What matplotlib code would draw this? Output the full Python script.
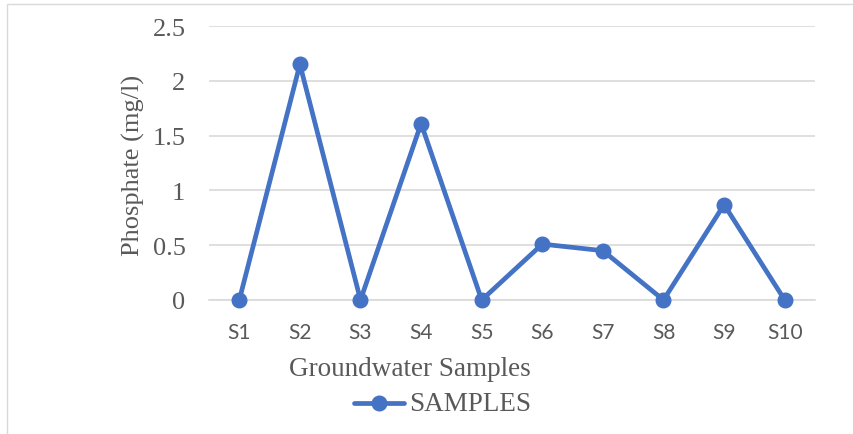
import matplotlib
matplotlib.use("Agg")
import matplotlib.pyplot as plt
from matplotlib.lines import Line2D
from matplotlib.patches import Rectangle

samples = ["S1", "S2", "S3", "S4", "S5", "S6", "S7", "S8", "S9", "S10"]
phosphate = [0.0, 2.15, 0.0, 1.61, 0.0, 0.51, 0.45, 0.0, 0.87, 0.0]
y_ticks = [0, 0.5, 1, 1.5, 2, 2.5]
y_tick_labels = ["0", "0.5", "1", "1.5", "2", "2.5"]

blue = "#4472C4"
grey_text = "#595959"
grid_col = "#d9d9d9"
serif = "Liberation Serif"
sans = "Lato"

fig = plt.figure(figsize=(8.54, 4.35), dpi=100)
W, H = 854, 435

# chart frame
fig.patches.append(Rectangle((7 / W, -0.1), 1.2, (H - 5) / H + 0.1, transform=fig.transFigure,
                             fill=False, edgecolor="#d9d9d9", linewidth=1.0))

ax = fig.add_axes([209 / W, 1 - 301 / H, (815 - 209) / W, (301 - 27) / H])
x = list(range(len(samples)))
ax.plot(x, phosphate, color=blue, linewidth=3.4, marker="o", markersize=10.5,
        solid_capstyle="round", solid_joinstyle="round", zorder=3, clip_on=False)

ax.set_xlim(-0.5, len(samples) - 0.5)
ax.set_ylim(0, 2.5)
ax.set_yticks(y_ticks)
ax.set_yticklabels(y_tick_labels, fontfamily=serif, fontsize=19, color=grey_text)
ax.set_xticks(x)
ax.set_xticklabels(samples, fontfamily=sans, fontsize=15, color=grey_text)
ax.tick_params(axis="y", length=0, pad=17)
ax.tick_params(axis="x", length=0, pad=16)
ax.grid(axis="y", color=grid_col, linewidth=1.2)
ax.set_axisbelow(True)
for s in ax.spines.values():
    s.set_visible(False)
ax.spines["bottom"].set_visible(True)
ax.spines["bottom"].set_color(grid_col)
ax.spines["bottom"].set_linewidth(1.2)

fig.text(133 / W, 1 - 165 / H, "Phosphate (mg/l)", rotation=90, ha="center", va="center",
         fontfamily=serif, fontsize=19, color=grey_text)
fig.text(410 / W, 1 - 369 / H, "Groundwater Samples", ha="center", va="center",
         fontfamily=serif, fontsize=19.5, color=grey_text)

# legend entry
fig.lines.append(Line2D([354 / W, 404 / W], [1 - 404 / H, 1 - 404 / H], transform=fig.transFigure,
                        color=blue, linewidth=3.4, solid_capstyle="round"))
fig.lines.append(Line2D([379 / W], [1 - 404 / H], transform=fig.transFigure,
                        color=blue, marker="o", markersize=10.5, linestyle="none"))
fig.text(409 / W, 1 - 405 / H, "SAMPLES", ha="left", va="center",
         fontfamily=serif, fontsize=19.5, color=grey_text)

fig.savefig("out.png", dpi=100)
